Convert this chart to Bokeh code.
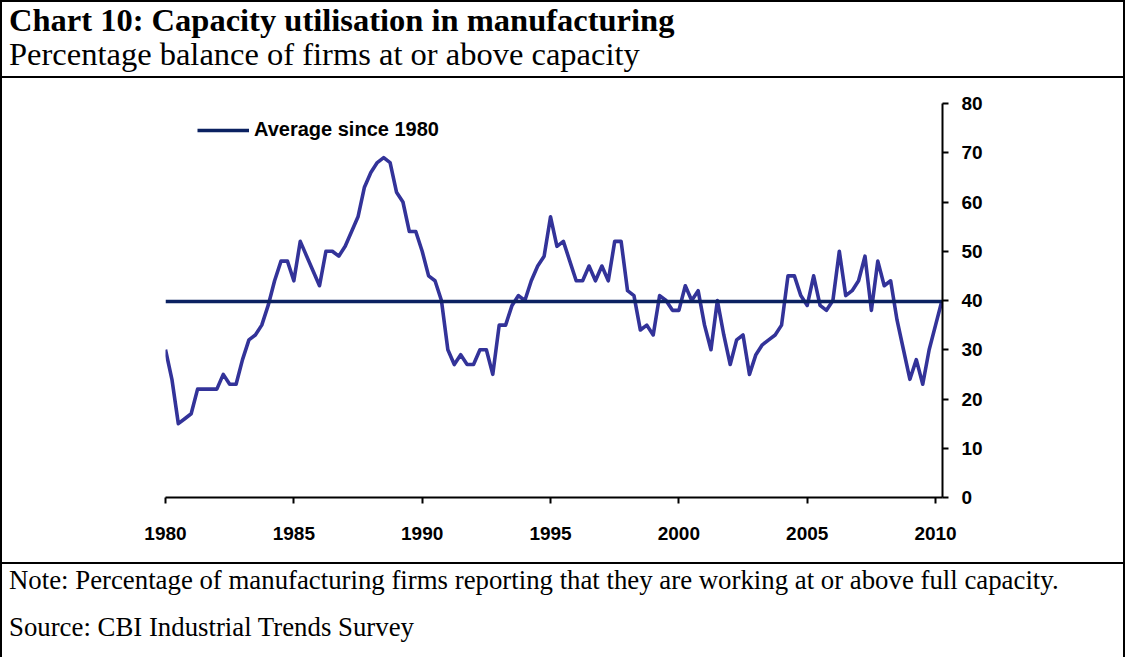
import numpy as np
from bokeh.plotting import figure
from bokeh.layouts import column, row
from bokeh.models import Range1d, FixedTicker, Legend, LegendItem, Div
from bokeh.embed import file_html
from bokeh.resources import INLINE

# ---------------- data ----------------
title_text = "Chart 10: Capacity utilisation in manufacturing"
subtitle_text = "Percentage balance of firms at or above capacity"
note_text = "Note: Percentage of manufacturing firms reporting that they are working at or above full capacity."
source_text = "Source: CBI Industrial Trends Survey"
legend_label = "Average since 1980"

start_year = 1980          # first quarter 1980 Q1, quarterly data to 2010 Q2
capacity_balance = [
    30, 24, 15, 16, 17, 22, 22, 22, 22, 25, 23, 23,          # 1980-1982
    28, 32, 33, 35, 39, 44, 48, 48, 44, 52, 49, 46,          # 1983-1985
    43, 50, 50, 49, 51, 54, 57, 63, 66, 68, 69, 68,          # 1986-1988
    62, 60, 54, 54, 50, 45, 44, 40, 30, 27, 29, 27,          # 1989-1991
    27, 30, 30, 25, 35, 35, 39, 41, 40, 44, 47, 49,          # 1992-1994
    57, 51, 52, 48, 44, 44, 47, 44, 47, 44, 52, 52,          # 1995-1997
    42, 41, 34, 35, 33, 41, 40, 38, 38, 43, 40, 42,          # 1998-2000
    35, 30, 40, 33, 27, 32, 33, 25, 29, 31, 32, 33,          # 2001-2003
    35, 45, 45, 41, 39, 45, 39, 38, 40, 50, 41, 42,          # 2004-2006
    44, 49, 38, 48, 43, 44, 36, 30, 24, 28, 23, 30,          # 2007-2009
    35, 40,                                                  # 2010
]
average_since_1980 = 39.8
x_ticks = [1980, 1985, 1990, 1995, 2000, 2005, 2010]
y_ticks = [0, 10, 20, 30, 40, 50, 60, 70, 80]

quarters = start_year + np.arange(len(capacity_balance)) * 0.25
x_start, x_end = 1980, 2010.27
y_start, y_end = 0, 80

# ---------------- chart figure ----------------
FW, FH = 1121, 484
p = figure(width=FW, height=FH, output_backend="svg", toolbar_location=None,
           x_range=Range1d(x_start, x_end), y_range=Range1d(y_start, y_end),
           y_axis_location="right",
           min_border_left=163, min_border_right=181,
           min_border_top=25, min_border_bottom=65)
p.title.visible = False
p.outline_line_color = None
p.grid.visible = False
p.background_fill_color = "white"
p.border_fill_color = "white"

for ax in (p.xaxis, p.yaxis):
    ax.axis_line_color = "black"
    ax.axis_line_width = 2
    ax.major_tick_line_color = "black"
    ax.major_tick_line_width = 2
    ax.major_tick_in = 0
    ax.major_tick_out = 6
    ax.minor_tick_line_color = None
    ax.major_label_text_font = "Liberation Sans"
    ax.major_label_text_font_style = "bold"
    ax.major_label_text_font_size = "19px"
    ax.major_label_text_color = "black"

p.xaxis.ticker = FixedTicker(ticks=x_ticks)
p.yaxis.ticker = FixedTicker(ticks=y_ticks)
p.xaxis.major_label_standoff = 23
p.yaxis.major_label_standoff = 13

# series
p.line(quarters, capacity_balance, line_color="#333399", line_width=3.6,
       line_join="round")
# average
avg_r = p.line([x_start, x_end], [average_since_1980, average_since_1980],
               line_color="#0b2161", line_width=3.6)

legend = Legend(items=[LegendItem(label=legend_label, renderers=[avg_r])],
                location=(32, 356), padding=0, margin=0, spacing=0,
                glyph_width=52, glyph_height=20, label_height=20,
                label_standoff=5, border_line_color=None,
                background_fill_alpha=0,
                label_text_font="Liberation Sans",
                label_text_font_style="bold",
                label_text_font_size="20px", label_text_color="black")
p.add_layout(legend)

# ---------------- boxed header / footer ----------------
serif = "font-family:'Liberation Serif','Times New Roman',serif;color:#000;white-space:nowrap;position:absolute;"

top_html = (
    '<div style="position:relative;box-sizing:border-box;width:1125px;height:78px;'
    'border:2px solid #000;background:#fff;overflow:hidden;margin:0;padding:0">'
    f'<div style="{serif}left:7px;top:2px;font-size:32.5px;line-height:32px;font-weight:bold">{title_text}</div>'
    f'<div style="{serif}left:7px;top:36px;font-size:32.5px;line-height:32px">{subtitle_text}</div>'
    '</div>'
)
bottom_html = (
    '<div style="position:relative;box-sizing:border-box;width:1125px;height:95px;'
    'border:2px solid #000;border-bottom:none;background:#fff;overflow:hidden;margin:0;padding:0">'
    f'<div style="{serif}left:7px;top:3px;font-size:26.8px;line-height:27px">{note_text}</div>'
    f'<div style="{serif}left:7px;top:50px;font-size:26.8px;line-height:27px">{source_text}</div>'
    '</div>'
)
vline_html = f'<div style="width:2px;height:{FH}px;background:#000;margin:0;padding:0"></div>'

top_div = Div(text=top_html, width=1125, height=78, margin=0)
bottom_div = Div(text=bottom_html, width=1125, height=95, margin=0)
left_line = Div(text=vline_html, width=2, height=FH, margin=0)
right_line = Div(text=vline_html, width=2, height=FH, margin=0)

layout = column(top_div, row(left_line, p, right_line, spacing=0),
                bottom_div, spacing=0)

open("out.html", "w").write(file_html(layout, INLINE))
